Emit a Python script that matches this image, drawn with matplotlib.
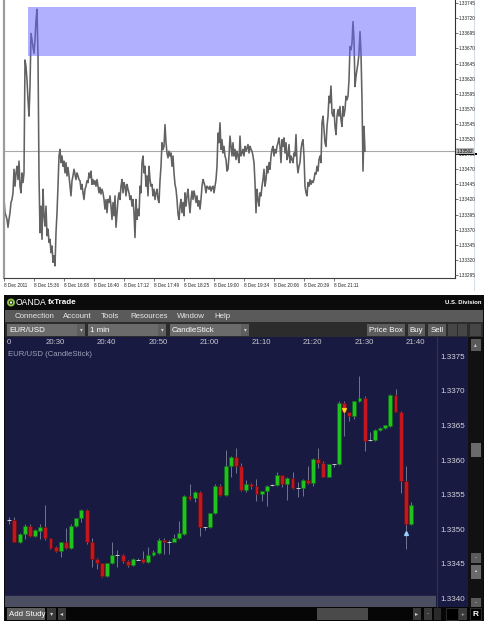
import numpy as np
import matplotlib
matplotlib.use("Agg")
import matplotlib.pyplot as plt
from matplotlib.patches import Rectangle, Circle
from matplotlib.transforms import blended_transform_factory

plt.rcParams["font.family"] = ["Liberation Sans", "DejaVu Sans"]

W, H = 490, 625

# --- top panel: MT4 line chart, EUR/USD 8 Dec 2011 ---
top_close = [
    1.33420, 1.33398, 1.33393, 1.33387, 1.33374, 1.33387, 1.33398, 1.33415, 1.33420, 1.33431,
    1.33470, 1.33442, 1.33464, 1.33475, 1.33453, 1.334835, 1.33442, 1.33431, 1.33464, 1.33448,
    1.33464, 1.33651, 1.33640, 1.33618, 1.33585, 1.33558, 1.33607, 1.33695, 1.33684, 1.33673,
    1.33662, 1.33684, 1.33717, 1.33735, 1.33657, 1.33459, 1.33365, 1.33409, 1.33354, 1.33437,
    1.33393, 1.33376, 1.33409, 1.33360, 1.33371, 1.33349, 1.33354, 1.33332, 1.33343, 1.33316,
    1.33327, 1.33310, 1.33365, 1.33398, 1.33442, 1.33492, 1.33503, 1.33481, 1.33492, 1.33475,
    1.334835, 1.33464, 1.33481, 1.33459, 1.33473, 1.33459, 1.33442, 1.33426, 1.33451, 1.33459,
    1.33470, 1.33462, 1.33453, 1.33464, 1.33459, 1.33453, 1.33451, 1.33437, 1.33445, 1.33431,
    1.33420, 1.33437, 1.33442, 1.33451, 1.33448, 1.33464, 1.33456, 1.33467, 1.33445, 1.33453,
    1.33445, 1.33451, 1.33442, 1.33453, 1.33442, 1.33431, 1.33440, 1.33429, 1.33437, 1.33431,
    1.33420, 1.33404, 1.33420, 1.33398, 1.33420, 1.33415, 1.33426, 1.33409, 1.33387, 1.33415,
    1.33393, 1.33426, 1.33374, 1.33398, 1.33420, 1.33431, 1.33420, 1.33442, 1.33453, 1.33431,
    1.33448, 1.33442, 1.33426, 1.33445, 1.33437, 1.33431, 1.33420, 1.33426, 1.33409, 1.33420,
    1.33398, 1.33357, 1.33420, 1.33387, 1.33404, 1.33393, 1.33442, 1.33431, 1.33481, 1.33492,
    1.33464, 1.33475, 1.33442, 1.33459, 1.33426, 1.33475, 1.33453, 1.33442, 1.33445, 1.33426,
    1.33437, 1.33420, 1.33431, 1.33437, 1.33420, 1.33415, 1.33451, 1.33475, 1.33514, 1.33503,
    1.33508, 1.33544, 1.33514, 1.33497, 1.33489, 1.33500, 1.33492, 1.33497, 1.33475, 1.33492,
    1.33464, 1.33445, 1.33437, 1.33420, 1.33396, 1.33387, 1.33409, 1.33420, 1.33398, 1.33415,
    1.33393, 1.33431, 1.33409, 1.33426, 1.33437, 1.33415, 1.33398, 1.33420, 1.33434, 1.33420,
    1.33434, 1.33426, 1.33415, 1.33426, 1.33409, 1.33418, 1.33404, 1.33420, 1.33442, 1.33453,
    1.33448, 1.33442, 1.33431, 1.33442, 1.33440, 1.33437, 1.33442, 1.33434, 1.33440, 1.33442,
    1.33431, 1.33442, 1.33453, 1.33475, 1.33530, 1.33514, 1.33547, 1.33503, 1.33519, 1.33497,
    1.33508, 1.33492, 1.33486, 1.33467,
    1.33470, 1.33492, 1.33525, 1.33508, 1.33492, 1.33514, 1.33492, 1.33503, 1.33486, 1.33500,
    1.33492, 1.33481, 1.33525, 1.33492, 1.33497, 1.33503, 1.33492, 1.33508, 1.33500, 1.335055,
    1.33511, 1.33497, 1.33508, 1.33503, 1.33500, 1.33492, 1.33481, 1.33448, 1.33398, 1.33437,
    1.33420, 1.33409, 1.33431, 1.33426, 1.33442, 1.33453, 1.33470, 1.33442, 1.33453, 1.33475,
    1.33464, 1.33481, 1.33470, 1.33492, 1.33503, 1.33508, 1.33492, 1.33503, 1.33497, 1.33508,
    1.33514, 1.33522, 1.33508, 1.33481, 1.33519, 1.33508, 1.33522, 1.33497, 1.33514, 1.33486,
    1.33492, 1.33511, 1.33481, 1.33492, 1.33486, 1.33481, 1.33497, 1.33492, 1.335275, 1.33481,
    1.33464, 1.33475, 1.33481, 1.33503, 1.33514, 1.33519, 1.33492, 1.33442, 1.33431, 1.33426,
    1.33448, 1.33442, 1.33453, 1.33445, 1.33451, 1.33448, 1.33453, 1.33464, 1.33462, 1.33475,
    1.33467, 1.33486, 1.33492, 1.33481, 1.33547, 1.33558, 1.33536, 1.33514, 1.33508, 1.33541,
    1.33558, 1.33591, 1.33580, 1.33608, 1.33563, 1.33558, 1.33569, 1.33541, 1.335275, 1.33558,
    1.33569, 1.33558, 1.33574, 1.33552, 1.33541, 1.33574, 1.33558, 1.33569, 1.33591, 1.33585,
    1.33591, 1.33618, 1.33673, 1.33668, 1.33679, 1.337145, 1.33684, 1.33607, 1.33624, 1.33635,
    1.33646, 1.33662, 1.33698, 1.33662, 1.33585, 1.33467, 1.33541, 1.33500,
]
top_tick_bars = [0, 30, 60, 90, 120, 150, 180, 210, 240, 270, 300, 330]
top_tick_labels = ["8 Dec 2011", "8 Dec 15:36", "8 Dec 16:08", "8 Dec 16:40",
                   "8 Dec 17:12", "8 Dec 17:49", "8 Dec 18:25", "8 Dec 19:00",
                   "8 Dec 19:34", "8 Dec 20:06", "8 Dec 20:39", "8 Dec 21:11"]
top_price_ticks = [1.33295, 1.33320, 1.33345, 1.33370, 1.33395, 1.33420, 1.33445,
                   1.33470, 1.33495, 1.33520, 1.33545, 1.33570, 1.33595, 1.33620,
                   1.33645, 1.33670, 1.33695, 1.33720, 1.33745]
zone_start, zone_end = 23.7, 412.0
zone_low, zone_high = 1.33658, 1.33738
last_price = 1.33500
last_label = "1.33502"

# --- bottom panel: OANDA fxTrade, EUR/USD 1 min candles from 20:23 ---
first_minute = 23
c_open = [
    1.33513, 1.33513, 1.33482, 1.33493, 1.33505, 1.33490, 1.33498, 1.33503, 1.33487, 1.33474,
    1.33468, 1.33481, 1.33473, 1.33505, 1.33516, 1.33528, 1.33481, 1.33457, 1.33451, 1.33432,
    1.33451, 1.33463, 1.33463, 1.33454, 1.33448, 1.33457, 1.33457, 1.33453, 1.33463, 1.33466,
    1.33484, 1.33482, 1.33482, 1.33487, 1.33493, 1.33548, 1.33545, 1.33554, 1.33503, 1.33503,
    1.33523, 1.33563, 1.33549, 1.33592, 1.33605, 1.33592, 1.33557, 1.33566, 1.33563, 1.33551,
    1.33555, 1.33563, 1.33564, 1.33578, 1.33566, 1.33574, 1.33559, 1.33559, 1.33571, 1.33567,
    1.33602, 1.33596, 1.33576, 1.33594, 1.33594, 1.33683, 1.33669, 1.33663, 1.33685, 1.33689,
    1.33629, 1.33629, 1.33643, 1.33646, 1.33649, 1.33694, 1.33670, 1.33570, 1.33507,
]
c_high = [
    1.33518, 1.33518, 1.33495, 1.33508, 1.33507, 1.33500, 1.33508, 1.33535, 1.33488, 1.33476,
    1.33482, 1.33502, 1.33507, 1.33517, 1.33529, 1.33529, 1.33487, 1.33458, 1.33452, 1.33452,
    1.33481, 1.33470, 1.33465, 1.33455, 1.33458, 1.33459, 1.33468, 1.33475, 1.33470, 1.33487,
    1.33488, 1.33484, 1.33493, 1.33512, 1.33549, 1.33565, 1.33556, 1.33556, 1.33504, 1.33524,
    1.33565, 1.33566, 1.33615, 1.33606, 1.33617, 1.33596, 1.33571, 1.33567, 1.33573, 1.33556,
    1.33564, 1.33565, 1.33583, 1.33579, 1.33575, 1.33583, 1.33569, 1.33572, 1.33591, 1.33603,
    1.33617, 1.33598, 1.33595, 1.33595, 1.33685, 1.33685, 1.33670, 1.33686, 1.33722, 1.33692,
    1.33640, 1.33645, 1.33648, 1.33651, 1.33695, 1.33703, 1.33671, 1.33592, 1.33540,
]
c_low = [
    1.33508, 1.33482, 1.33480, 1.33486, 1.33489, 1.33489, 1.33486, 1.33485, 1.33472, 1.33467,
    1.33460, 1.33472, 1.33471, 1.33504, 1.33510, 1.33479, 1.33445, 1.33442, 1.33431, 1.33431,
    1.33450, 1.33446, 1.33452, 1.33446, 1.33447, 1.33455, 1.33451, 1.33452, 1.33462, 1.33465,
    1.33465, 1.33465, 1.33481, 1.33486, 1.33492, 1.33542, 1.33540, 1.33490, 1.33499, 1.33502,
    1.33522, 1.33548, 1.33548, 1.33575, 1.33581, 1.33556, 1.33554, 1.33558, 1.33541, 1.33541,
    1.33533, 1.33562, 1.33563, 1.33561, 1.33542, 1.33558, 1.33546, 1.33548, 1.33566, 1.33562,
    1.33588, 1.33575, 1.33575, 1.33590, 1.33593, 1.33635, 1.33657, 1.33659, 1.33684, 1.33613,
    1.33628, 1.33628, 1.33642, 1.33645, 1.33648, 1.33669, 1.33552, 1.33472, 1.33506,
]
c_close = [
    1.33513, 1.33482, 1.33493, 1.33505, 1.33490, 1.33499, 1.33503, 1.33487, 1.33473, 1.33468,
    1.33481, 1.33473, 1.33505, 1.33516, 1.33528, 1.33481, 1.33457, 1.33451, 1.33432, 1.33451,
    1.33463, 1.33463, 1.33454, 1.33448, 1.33457, 1.33456, 1.33453, 1.33463, 1.33467, 1.33484,
    1.33481, 1.33482, 1.33488, 1.33494, 1.33548, 1.33544, 1.33554, 1.33503, 1.33503, 1.33523,
    1.33563, 1.33549, 1.33592, 1.33605, 1.33592, 1.33557, 1.33566, 1.33563, 1.33551, 1.33555,
    1.33563, 1.33564, 1.33578, 1.33566, 1.33574, 1.33559, 1.33559, 1.33571, 1.33567, 1.33602,
    1.33596, 1.33576, 1.33594, 1.33594, 1.33683, 1.33669, 1.33663, 1.33685, 1.33689, 1.33628,
    1.33629, 1.33644, 1.33647, 1.33650, 1.33694, 1.33670, 1.33570, 1.33507, 1.33535,
]
time_minutes = [30, 40, 50, 60, 70, 80, 90, 100]
time_labels = ["20:30", "20:40", "20:50", "21:00", "21:10", "21:20", "21:30", "21:40"]
price_ticks = [1.3340, 1.3345, 1.3350, 1.3355, 1.3360, 1.3365, 1.3370, 1.3375]
sell_mark = (88, 1.33672)
buy_mark = (100, 1.33495)

NAVY = "#181a41"
UP, UP_EDGE = "#1fc41f", "#0c6a10"
DOWN, DOWN_EDGE = "#c3161f", "#5e0c10"
WICK = "#80849c"


def px_axes(fig, x0, y0, x1, y1, **kw):
    return fig.add_axes([x0 / W, 1 - y1 / H, (x1 - x0) / W, (y1 - y0) / H], **kw)


fig = plt.figure(figsize=(W / 100, H / 100), dpi=100)
fig.patch.set_facecolor("white")

# background layer in pixel units for the screenshot chrome
ui = fig.add_axes([0, 0, 1, 1], zorder=0)
ui.set_xlim(0, W)
ui.set_ylim(H, 0)
ui.axis("off")


def box(x0, y0, x1, y1, color, ec="none", lw=0.0):
    ui.add_patch(Rectangle((x0, y0), x1 - x0, y1 - y0, facecolor=color,
                           edgecolor=ec, linewidth=lw))


def label(x, y, s, size=5.6, color="#e8e8e8", ha="left", weight="normal"):
    ui.text(x, y, s, fontsize=size, color=color, ha=ha, va="center", weight=weight)


ui.plot([473.5, 473.5], [0, 290], color="#d6deea", lw=0.8)

# ---- top chart ----
ax = px_axes(fig, 3.5, 0, 455, 278, zorder=1)
ax.set_facecolor("none")
bars = np.arange(len(top_close))
ax.plot(bars, top_close, color="#626262", lw=1.15, zorder=2)
ax.add_patch(Rectangle((zone_start, zone_low), zone_end - zone_start,
                       zone_high - zone_low, facecolor="#6262ff", alpha=0.5,
                       edgecolor="none", zorder=3))
ax.axhline(last_price, color="#a8a8a8", lw=0.8, zorder=1)
ax.set_xlim(-0.5, 451)
ax.set_ylim(1.332900, 1.337503)
ax.spines["top"].set_visible(False)
ax.spines["left"].set_color("#9c9c9c")
ax.spines["left"].set_linewidth(1.6)
ax.spines["bottom"].set_color("#404040")
ax.spines["right"].set_color("#303030")
ax.spines["bottom"].set_linewidth(0.8)
ax.spines["right"].set_linewidth(0.8)
ax.set_xticks(top_tick_bars)
ax.set_xticklabels(top_tick_labels, fontsize=3.3, color="#202020")
for t in ax.get_xticklabels():
    t.set_ha("left")
ax.tick_params(axis="x", length=2, width=0.5, pad=1.5, color="#404040")
ax.yaxis.tick_right()
ax.set_yticks(top_price_ticks)
ax.set_yticklabels([f"{p:.5f}" for p in top_price_ticks], fontsize=3.3, color="#202020")
ax.tick_params(axis="y", length=2, width=0.5, pad=1, color="#404040")
tr = blended_transform_factory(ax.transAxes, ax.transData)
ax.text(1.003, last_price, last_label, transform=tr, fontsize=3.3, color="black",
        ha="left", va="center", zorder=5,
        bbox=dict(facecolor="#b4b4b4", edgecolor="none", pad=0.6))
box(455, 153, 477, 154.6, "black")

# ---- OANDA window chrome ----
box(4, 295, 484, 621, "#0b0b0b")
ui.add_patch(Circle((11, 302.5), 3.0, facecolor="none", edgecolor="#8cc63f", lw=1.4))
ui.add_patch(Circle((11, 302.5), 1.2, facecolor="white", edgecolor="none"))
label(16, 302.8, "OANDA", size=6.2, color="white")
label(47.5, 302.8, "fxTrade", size=5.8, color="white", weight="bold")
label(481, 303, "U.S. Division", size=4.3, color="white", ha="right", weight="bold")

box(5, 310, 483, 322, "#5a5a5a")
for x, s in [(15, "Connection"), (63, "Account"), (101, "Tools"),
             (130, "Resources"), (177, "Window"), (214, "Help")]:
    label(x, 316, s, size=5.7)

box(5, 322, 483, 337, "#2c2c2c")
for x0, x1, s in [(7, 85, "EUR/USD"), (88, 166, "1 min"), (170, 249, "CandleStick")]:
    box(x0, 324, x1, 336, "#6b6b6b")
    box(x1 - 8, 324, x1, 336, "#5e5e5e")
    label(x0 + 2, 330, s, size=5.8, color="white")
    label(x1 - 4, 330, "\u25be", size=4, color="#cfcfcf", ha="center")
for x0, x1, s in [(367, 405, "Price Box"), (408, 425, "Buy"), (428, 446, "Sell")]:
    box(x0, 324, x1, 336, "#5c5c5c")
    label((x0 + x1) / 2, 330, s, size=5.7, color="white", ha="center")
for x0, x1 in [(448, 457), (458, 467), (470, 481)]:
    box(x0, 324, x1, 336, "#464646")

# time header row, price column and right scroll column
box(5, 337, 468, 607, NAVY)
ui.plot([436.5, 436.5], [337, 607], color="#2e3262", lw=0.8)
box(468, 337, 483, 607, "#111111")
box(470.5, 339, 480.5, 351, "#5a5a5a")
box(470.5, 443, 480.5, 457, "#6a6a6a")
box(470.5, 553, 480.5, 563, "#5a5a5a")
box(470.5, 565, 480.5, 579, "#6a6a6a")
box(470.5, 598, 480.5, 607, "#5a5a5a")
label(475.5, 345, "\u25b4", size=4, color="#cfcfcf", ha="center")
label(475.5, 558, "-", size=4.5, color="#dddddd", ha="center")
label(475.5, 572, "\u25aa", size=4.5, color="#dddddd", ha="center")
label(475.5, 602.5, "-", size=4.5, color="#dddddd", ha="center")
label(7, 342, "0", size=5.6, color="#c8c8d2")

# bottom control bar
box(5, 607, 483, 621, "#060606")
box(7, 608, 45, 620, "#5e5e5e")
label(9, 614, "Add Study", size=5.7, color="white")
for x0, x1, s in [(47, 56, "\u25be"), (58, 66, "\u25c2"), (413, 421, "\u25b8"),
                  (424, 432, "-"), (459, 467, "+")]:
    box(x0, 608, x1, 620, "#3a3a3a")
    label((x0 + x1) / 2, 614, s, size=4.5, color="#d0d0d0", ha="center")
box(317, 608, 368, 620, "#4a4a4a")
box(434, 608, 441, 620, "#2a2a2a")
box(446, 608, 458, 620, "#000000", ec="#333333", lw=0.6)
box(470, 608, 481, 620, "#000000", ec="#333333", lw=0.6)
label(475.5, 614, "R", size=6, color="white", ha="center", weight="bold")

# ---- time header ----
head = px_axes(fig, 5, 337, 436, 347, zorder=1)
head.set_facecolor("none")
head.axis("off")
xmin, xmax = 22.165, 105.86
head.set_xlim(xmin, xmax)
htr = blended_transform_factory(head.transData, head.transAxes)
for m, s in zip(time_minutes, time_labels):
    head.text(m, 0.45, s, transform=htr, fontsize=5.6, color="#c8c8d2",
              ha="left", va="center")

# ---- candlestick chart ----
cx = px_axes(fig, 5, 347, 436, 607, zorder=1)
cx.set_facecolor(NAVY)
o = np.array(c_open)
hi = np.array(c_high)
lo = np.array(c_low)
c = np.array(c_close)
t = first_minute + np.arange(len(o))
cx.vlines(t, lo, hi, color=WICK, lw=0.6, zorder=2)
up = c > o
doji = np.abs(c - o) < 0.000015
body_lo = np.minimum(o, c)
body_h = np.abs(c - o)
sel = up & ~doji
cx.bar(t[sel], body_h[sel], bottom=body_lo[sel], width=0.76, color=UP,
       edgecolor=UP_EDGE, linewidth=0.4, zorder=3)
sel = ~up & ~doji
cx.bar(t[sel], body_h[sel], bottom=body_lo[sel], width=0.76, color=DOWN,
       edgecolor=DOWN_EDGE, linewidth=0.4, zorder=3)
cx.hlines(c[doji], t[doji] - 0.38, t[doji] + 0.38, color="#c8c8d0", lw=0.7, zorder=3)
cx.plot(*sell_mark, marker="v", ms=2.8, color="#ffd21f", zorder=4)
cx.plot(*buy_mark, marker="^", ms=2.8, color="#9ad0ff", zorder=4)
cx.set_xlim(xmin, xmax)
cx.set_ylim(1.333877, 1.337634)
cx.axhspan(1.333877, 1.334029, color="#4b4d61", zorder=1)
cx.text(0.007, 0.985, "EUR/USD (CandleStick)", transform=cx.transAxes, fontsize=5.6,
        color="#9ea2b8", ha="left", va="top")
for s in cx.spines.values():
    s.set_visible(False)
cx.set_xticks([])
cx.yaxis.tick_right()
cx.set_yticks(price_ticks)
cx.set_yticklabels([f"{p:.4f}" for p in price_ticks], fontsize=5.8, color="#d4d4dc")
cx.tick_params(axis="y", length=0, pad=3.5)

fig.savefig("out.png", dpi=100)
